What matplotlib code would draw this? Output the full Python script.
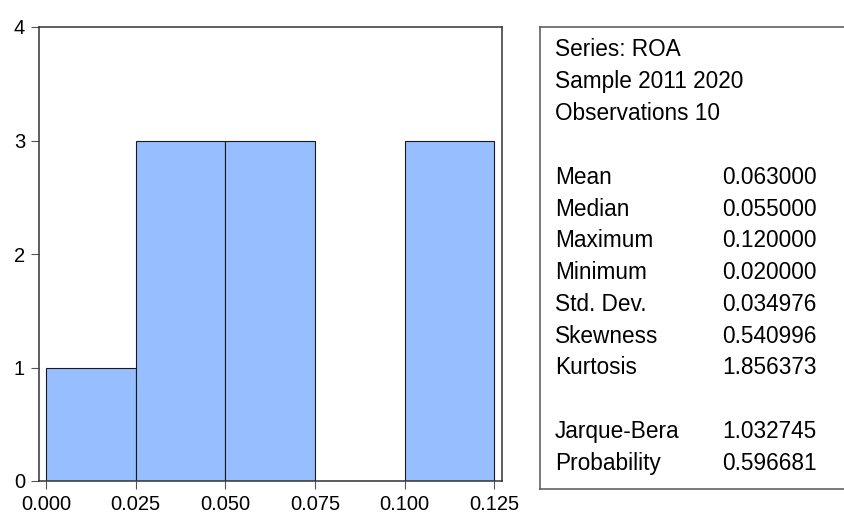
import matplotlib
matplotlib.use("Agg")
import matplotlib.pyplot as plt
from matplotlib.lines import Line2D

# --- DATA ---
bin_left = [0.000, 0.025, 0.050, 0.075, 0.100]
bin_width = 0.025
counts = [1, 3, 3, 0, 3]
xticks = [0.000, 0.025, 0.050, 0.075, 0.100, 0.125]
yticks = [0, 1, 2, 3, 4]

header_lines = ["Series: ROA", "Sample 2011 2020", "Observations 10"]
stat_names = ["Mean", "Median", "Maximum", "Minimum", "Std. Dev.", "Skewness", "Kurtosis"]
stat_values = ["0.063000", "0.055000", "0.120000", "0.020000", "0.034976", "0.540996", "1.856373"]
test_names = ["Jarque-Bera", "Probability"]
test_values = ["1.032745", "0.596681"]

plt.rcParams['font.family'] = ['Liberation Sans', 'DejaVu Sans']

W, H = 844, 514
fig = plt.figure(figsize=(W / 100, H / 100), dpi=100)

# histogram panel
ax = fig.add_axes([39 / W, (H - 481) / H, 463 / W, 454 / H])
ax.bar(bin_left, counts, width=bin_width, align='edge',
       color='#97BEFF', edgecolor='#1a1a1a', linewidth=0.8)
ax.set_xlim(-0.002, 0.1272)
ax.set_ylim(0, 4)
ax.set_xticks(xticks)
ax.set_xticklabels([f"{t:.3f}" for t in xticks])
ax.set_yticks(yticks)
for s in ax.spines.values():
    s.set_color('#333333')
    s.set_linewidth(1.1)
ax.tick_params(axis='both', direction='out', length=6, width=0.8,
               color='#555555', labelsize=14.5, pad=4)

# statistics box: left, top and bottom edges, right side runs off the picture
bx0, bx1 = 540 / W, 1.05
by0, by1 = 1 - 489 / H, 1 - 27 / H
for xs, ys in [([bx0, bx0], [by0, by1]), ([bx0, bx1], [by1, by1]), ([bx0, bx1], [by0, by0])]:
    fig.add_artist(Line2D(xs, ys, transform=fig.transFigure,
                          color='#555555', linewidth=1.1))

x_lab = 555 / W
x_val = 722 / W
y0 = 50
step = 31.8
lines = [(t, None) for t in header_lines] + [(None, None)]
lines += list(zip(stat_names, stat_values)) + [(None, None)]
lines += list(zip(test_names, test_values))
for i, (name, val) in enumerate(lines):
    yy = 1 - (y0 + i * step) / H
    if name:
        fig.text(x_lab, yy, name, fontsize=16.3, va='center', ha='left')
    if val:
        fig.text(x_val, yy, val, fontsize=16.3, va='center', ha='left')

fig.savefig("out.png", dpi=100)
